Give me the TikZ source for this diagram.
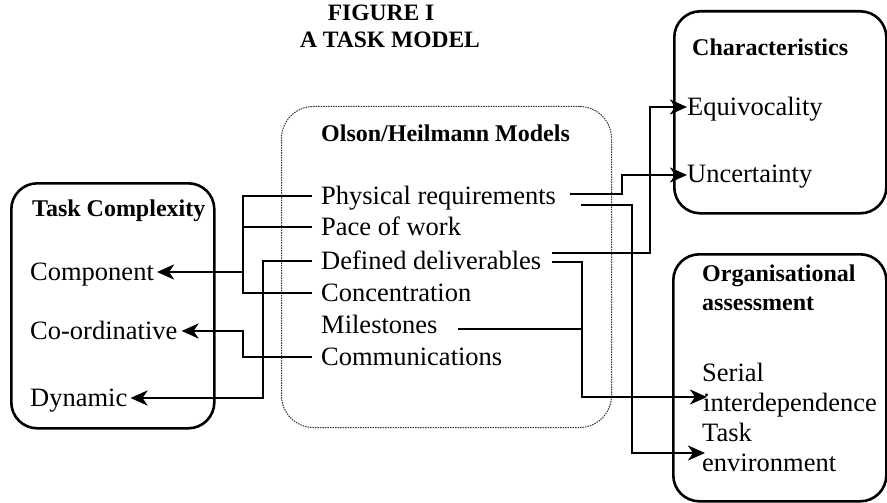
\documentclass[tikz,border=0pt]{standalone}
\usepackage{fontspec}
\setmainfont{Liberation Serif}
\usetikzlibrary{arrows.meta}
\begin{document}
\begin{tikzpicture}[x=1pt,y=-1pt,
  txt/.style={anchor=west,inner sep=0pt,text height=17pt,text depth=0pt,font=\fontsize{26.5}{30}\selectfont},
  hd/.style={anchor=west,inner sep=0pt,text height=16pt,text depth=0pt,font=\fontsize{24}{28}\selectfont\bfseries},
  ttl/.style={anchor=center,inner sep=0pt,text height=16pt,text depth=0pt,font=\fontsize{23.5}{28}\selectfont\bfseries},
  box/.style={draw,line width=2.6pt,rounded corners=26pt,inner sep=0pt,anchor=north west},
  dbox/.style={draw=black!80,line width=1pt,dash pattern=on 1.5pt off 1pt,rounded corners=32pt,inner sep=0pt,anchor=north west},
  conn/.style={line width=2.6pt},
  arr/.style={conn,-{Stealth[length=17pt,width=15pt,inset=5pt]}},
]
\useasboundingbox (0,0) rectangle (887,503);

% title
\node[ttl] (t1) at (381,13) {FIGURE I};
\node[ttl] (t2) at (390,40) {A TASK MODEL};

% containers
\node[box,minimum width=203pt,minimum height=245pt] (tcbox) at (10,182) {};
\node[dbox,minimum width=330pt,minimum height=321pt] (ohbox) at (281,106) {};
\node[box,minimum width=212pt,minimum height=202pt] (chbox) at (673,10) {};
\node[box,minimum width=213pt,minimum height=247pt] (orbox) at (672,253) {};

% left box texts
\node[hd] (tch) at (32,208) {Task Complexity};
\node[txt] (comp) at (30,272) {Component};
\node[txt] (coord) at (30,331) {Co-ordinative};
\node[txt] (dyn) at (30,398) {Dynamic};

% middle texts
\node[hd] (ohh) at (321,133) {Olson/Heilmann Models};
\node[txt] (phys) at (321,196) {Physical requirements};
\node[txt] (pace) at (321,227) {Pace of work};
\node[txt] (defd) at (321,261) {Defined deliverables};
\node[txt] (conc) at (321,293) {Concentration};
\node[txt] (mile) at (321,325) {Milestones};
\node[txt] (comm) at (321,357) {Communications};

% right top texts
\node[hd] (chh) at (692,48) {Characteristics};
\node[txt] (equ) at (687,107) {Equivocality};
\node[txt] (unc) at (687,174) {Uncertainty};

% right bottom texts
\node[hd] (orh1) at (702,273) {Organisational};
\node[hd] (orh2) at (702,302) {assessment};
\node[txt] (ser1) at (702,373) {Serial};
\node[txt] (ser2) at (703,403) {interdependence};
\node[txt] (task1) at (702,433) {Task};
\node[txt] (task2) at (702,463) {environment};

% left connectors
\coordinate (busL) at (243,272);
\draw[conn] ([xshift=-9pt]phys.west) -| (busL);
\draw[conn] ([xshift=-9pt]pace.west) -| (busL);
\draw[conn] ([xshift=-9pt]conc.west) -| (busL);
\draw[arr] (busL) -- ([xshift=3pt]comp.east);
\draw[arr] ([xshift=-9pt]defd.west) -| (263,398) -- ([xshift=3pt]dyn.east);
\draw[arr] ([xshift=-9pt]comm.west) -| (243,331) -- ([xshift=4pt]coord.east);

% right connectors
\draw[arr] ([xshift=14pt,yshift=2pt]phys.east) -| (622,175) -- ([yshift=-1pt]unc.west);
\draw[arr] ([xshift=25pt,yshift=-9pt]phys.east) -| (632,453) -- ([xshift=3pt,yshift=10pt]task2.west);
\draw[arr] ([xshift=11pt,yshift=8pt]defd.east) -| (650,107) -- (equ.west);
\coordinate (jS) at (582,329);
\draw[arr] ([xshift=11pt,yshift=-1pt]defd.east) -| (582,397) -- ([xshift=4pt,yshift=6pt]ser2.west);
\draw[conn] ([xshift=20pt,yshift=-4pt]mile.east) -- (jS);
\end{tikzpicture}
\end{document}
